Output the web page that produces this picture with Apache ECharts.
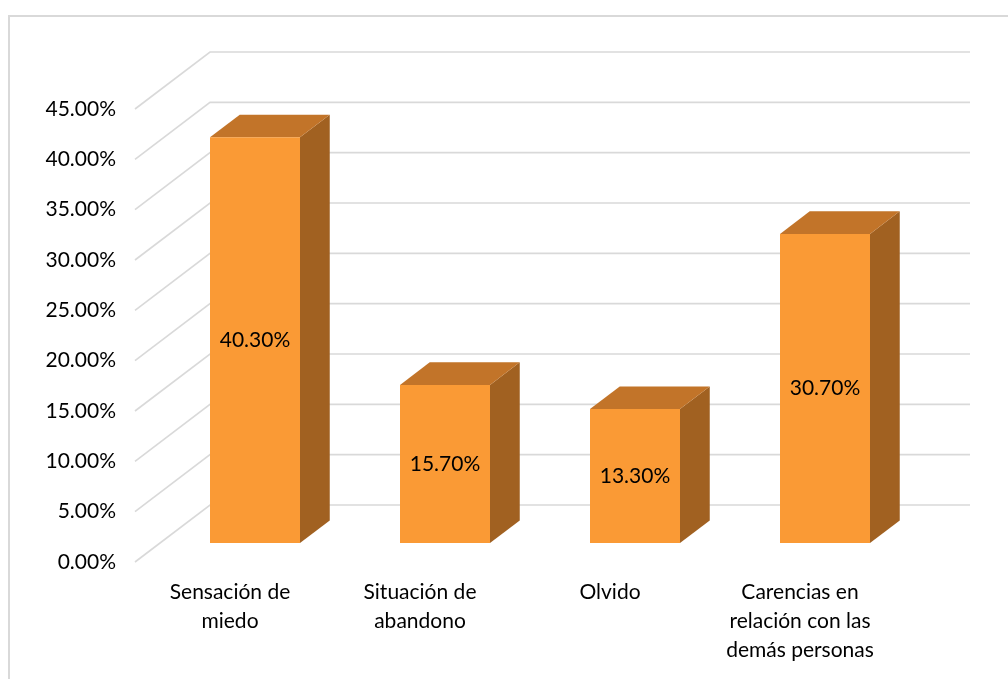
<!DOCTYPE html>
<html>
<head>
<meta charset="utf-8">
<script src="https://cdn.jsdelivr.net/npm/echarts@6/dist/echarts.min.js"></script>
<style>
  html, body { margin: 0; padding: 0; background: #ffffff; }
  #chart { width: 1008px; height: 679px; }
</style>
</head>
<body>
<div id="chart"></div>
<script>
// Categories and their percentages
const categories = [
  'Sensación de\nmiedo',
  'Situación de\nabandono',
  'Olvido',
  'Carencias en\nrelación con las\ndemás personas'
];
const values = [40.3, 15.7, 13.3, 30.7];

// Value-axis ticks (percent)
const yTicks = [0, 5, 10, 15, 20, 25, 30, 35, 40, 45];

// Pseudo-3D geometry: vector from the floor's front edge to the back wall,
// and where the bars sit inside that depth (fractions of it).
const DEPTH = [75, -57];
const BAR_FRONT = 1 / 3;
const BAR_BACK = 0.73;
const BAR_RATIO = 90 / 190;

const FONT = 'Lato';
const FONT_SIZE = 21;

const COLORS = {
  front: '#FA9A35',
  top: '#C27429',
  side: '#A16121',
  grid: '#D9D9D9',
  text: '#000000'
};

const fmt = v => v.toFixed(2) + '%';

const chart = echarts.init(document.getElementById('chart'), null, { renderer: 'canvas' });

// Gridlines: a diagonal on the side wall, then a horizontal run along the back wall
function renderGridLine(params, api) {
  const v = api.value(1);
  const p = api.coord([0, v]);
  const cs = params.coordSys;
  const left = cs.x;
  const right = cs.x + cs.width;
  return {
    type: 'polyline',
    shape: {
      points: [
        [left, p[1]],
        [left + DEPTH[0], p[1] + DEPTH[1]],
        [right + DEPTH[0], p[1] + DEPTH[1]]
      ]
    },
    style: { stroke: COLORS.grid, lineWidth: 1.6, fill: 'none' },
    silent: true
  };
}

// Boxes: front face, top face, right side face and the value label
function renderBox(params, api) {
  const i = api.value(0);
  const v = api.value(1);
  const base = api.coord([i, 0]);
  const top = api.coord([i, v]);
  const band = api.size([1, 0])[0];
  const w = band * BAR_RATIO;
  const fo = [DEPTH[0] * BAR_FRONT, DEPTH[1] * BAR_FRONT];
  const bo = [DEPTH[0] * BAR_BACK, DEPTH[1] * BAR_BACK];
  const xl = base[0] - w / 2;
  const xr = base[0] + w / 2;
  const yt = top[1];
  const yb = base[1];

  const F = (x, y) => [x + fo[0], y + fo[1]];
  const B = (x, y) => [x + bo[0], y + bo[1]];

  return {
    type: 'group',
    children: [
      {
        type: 'polygon',
        shape: { points: [F(xr, yt), B(xr, yt), B(xr, yb), F(xr, yb)] },
        style: { fill: COLORS.side }
      },
      {
        type: 'polygon',
        shape: { points: [F(xl, yt), F(xr, yt), B(xr, yt), B(xl, yt)] },
        style: { fill: COLORS.top }
      },
      {
        type: 'rect',
        shape: { x: xl + fo[0], y: yt + fo[1], width: w, height: yb - yt },
        style: { fill: COLORS.front }
      },
      {
        type: 'text',
        x: base[0] + fo[0],
        y: (yt + yb) / 2 + fo[1],
        style: {
          text: fmt(v),
          fill: COLORS.text,
          font: FONT_SIZE + 'px ' + FONT,
          align: 'center',
          verticalAlign: 'middle',
          textAlign: 'center',
          textVerticalAlign: 'middle'
        }
      }
    ]
  };
}

chart.setOption({
  animation: false,
  backgroundColor: '#ffffff',
  graphic: [
    {
      type: 'rect',
      shape: { x: 9, y: 16, width: 1100, height: 800 },
      style: { fill: 'none', stroke: '#D9D9D9', lineWidth: 2 },
      silent: true,
      z: -10
    }
  ],
  grid: {
    left: 135,
    top: 109,
    width: 760,
    height: 453,
    containLabel: false,
    outerBoundsMode: 'none'
  },
  xAxis: {
    type: 'category',
    data: categories,
    axisLine: { show: false },
    axisTick: { show: false },
    splitLine: { show: false },
    axisLabel: {
      interval: 0,
      margin: 16,
      color: COLORS.text,
      fontFamily: FONT,
      fontSize: FONT_SIZE,
      lineHeight: 29,
      align: 'center'
    }
  },
  yAxis: {
    type: 'value',
    min: yTicks[0],
    max: yTicks[yTicks.length - 1],
    interval: yTicks[1] - yTicks[0],
    axisLine: { show: false },
    axisTick: { show: false },
    splitLine: { show: false },
    axisLabel: {
      margin: 19,
      color: COLORS.text,
      fontFamily: FONT,
      fontSize: FONT_SIZE,
      formatter: fmt
    }
  },
  series: [
    {
      type: 'custom',
      name: 'grid',
      renderItem: renderGridLine,
      data: yTicks.map(v => [0, v]),
      z: 1,
      silent: true
    },
    {
      type: 'custom',
      name: 'valores',
      renderItem: renderBox,
      data: values.map((v, i) => [i, v]),
      z: 2
    }
  ]
});
</script>
</body>
</html>
